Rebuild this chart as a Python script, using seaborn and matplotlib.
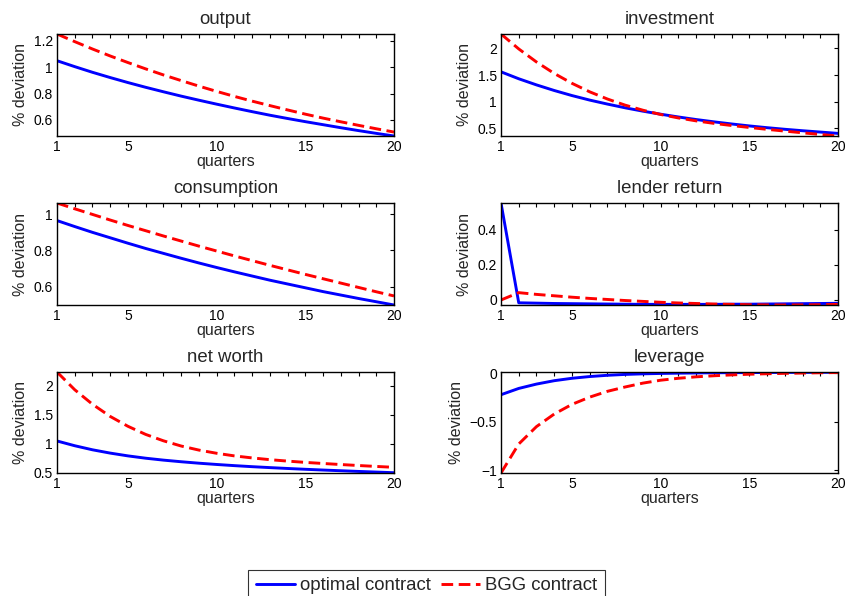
import numpy as np
import pandas as pd
import matplotlib
matplotlib.use("Agg")
import matplotlib.pyplot as plt
import seaborn as sns

quarters = list(range(1, 21))
series_names = ["optimal contract", "BGG contract"]

output_opt = [1.05, 1.005, 0.962, 0.922, 0.884, 0.848, 0.814, 0.781, 0.750, 0.720,
              0.691, 0.663, 0.636, 0.611, 0.587, 0.564, 0.541, 0.519, 0.498, 0.478]
output_bgg = [1.253, 1.195, 1.139, 1.086, 1.036, 0.988, 0.942, 0.899, 0.857, 0.817,
              0.779, 0.743, 0.709, 0.676, 0.644, 0.614, 0.586, 0.559, 0.533, 0.508]

invest_opt = [1.56, 1.43, 1.315, 1.21, 1.115, 1.03, 0.955, 0.885, 0.822, 0.765,
              0.713, 0.665, 0.622, 0.582, 0.545, 0.512, 0.482, 0.455, 0.43, 0.405]
invest_bgg = [2.27, 1.99, 1.745, 1.53, 1.345, 1.185, 1.05, 0.935, 0.84, 0.76,
              0.695, 0.64, 0.593, 0.553, 0.516, 0.481, 0.448, 0.416, 0.385, 0.356]

cons_opt = [0.965, 0.932, 0.900, 0.870, 0.840, 0.811, 0.784, 0.757, 0.731, 0.706,
            0.682, 0.659, 0.636, 0.615, 0.594, 0.573, 0.554, 0.535, 0.517, 0.499]
cons_bgg = [1.062, 1.030, 0.999, 0.968, 0.938, 0.909, 0.880, 0.852, 0.824, 0.797,
            0.770, 0.744, 0.718, 0.693, 0.668, 0.644, 0.620, 0.596, 0.572, 0.549]

lender_opt = [0.554, -0.016, -0.018, -0.020, -0.021, -0.022, -0.023, -0.024, -0.025, -0.025,
              -0.025, -0.025, -0.025, -0.024, -0.024, -0.023, -0.022, -0.021, -0.020, -0.019]
lender_bgg = [0.0, 0.042, 0.032, 0.024, 0.016, 0.009, 0.003, -0.003, -0.008, -0.013,
              -0.017, -0.020, -0.023, -0.025, -0.027, -0.028, -0.0286, -0.028, -0.027, -0.025]

networth_opt = [1.047, 0.965, 0.895, 0.838, 0.79, 0.75, 0.717, 0.689, 0.664, 0.642,
                0.622, 0.604, 0.588, 0.573, 0.559, 0.546, 0.534, 0.522, 0.511, 0.5]
networth_bgg = [2.236, 1.93, 1.68, 1.47, 1.30, 1.16, 1.05, 0.96, 0.89, 0.835,
                0.79, 0.755, 0.725, 0.70, 0.678, 0.659, 0.641, 0.624, 0.608, 0.593]

leverage_opt = [-0.22, -0.155, -0.11, -0.075, -0.05, -0.032, -0.019, -0.01, -0.004, 0.0,
                0.003, 0.005, 0.007, 0.008, 0.009, 0.010, 0.011, 0.011, 0.012, 0.012]
leverage_bgg = [-1.03, -0.73, -0.55, -0.42, -0.32, -0.245, -0.185, -0.14, -0.10, -0.07,
                -0.05, -0.035, -0.024, -0.015, -0.008, -0.003, 0.001, 0.004, 0.007, 0.009]

panel_titles = ["output", "investment", "consumption", "lender return", "net worth", "leverage"]
panel_data = [(output_opt, output_bgg), (invest_opt, invest_bgg), (cons_opt, cons_bgg),
              (lender_opt, lender_bgg), (networth_opt, networth_bgg), (leverage_opt, leverage_bgg)]
panel_yticks = [[0.6, 0.8, 1.0, 1.2], [0.5, 1.0, 1.5, 2.0], [0.6, 0.8, 1.0],
                [0.0, 0.2, 0.4], [0.5, 1.0, 1.5, 2.0], [-1.0, -0.5, 0.0]]
panel_yticklabels = [["0.6", "0.8", "1", "1.2"], ["0.5", "1", "1.5", "2"], ["0.6", "0.8", "1"],
                     ["0", "0.2", "0.4"], ["0.5", "1", "1.5", "2"], ["\u22121", "\u22120.5", "0"]]
panel_ylims = [(0.478, 1.253), (0.356, 2.27), (0.499, 1.062), (-0.0286, 0.554),
               (0.495, 2.236), (-1.03, 0.015)]
xtick_labels = {1: "1", 5: "5", 10: "10", 15: "15", 20: "20"}

sns.set_style("white")
plt.rcParams["font.family"] = ["Liberation Sans", "DejaVu Sans"]
plt.rcParams["axes.unicode_minus"] = True

fig = plt.figure(figsize=(8.47, 5.96), dpi=100)
W, H = 847, 596
col_x = [57, 501]
row_y = [(34, 136), (203, 305), (372, 473)]
axw = 337

palette = {"optimal contract": (0, 0, 1), "BGG contract": (1, 0, 0)}
dashes = {"optimal contract": "", "BGG contract": (4.0, 1.9)}

axes = []
for i, title in enumerate(panel_titles):
    r, c = divmod(i, 2)
    top, bot = row_y[r]
    ax = fig.add_axes([col_x[c] / W, 1 - bot / H, axw / W, (bot - top) / H])
    axes.append(ax)
    opt, bgg = panel_data[i]
    df = pd.DataFrame({
        "quarter": quarters * 2,
        "value": list(opt) + list(bgg),
        "contract": [series_names[0]] * len(quarters) + [series_names[1]] * len(quarters),
    })
    sns.lineplot(data=df, x="quarter", y="value", hue="contract", style="contract",
                 palette=palette, dashes=dashes, linewidth=2.1, ax=ax, legend=False,
                 hue_order=series_names, style_order=series_names)
    ax.set_xlim(1, 20)
    ax.set_ylim(*panel_ylims[i])
    ax.set_xticks(quarters)
    ax.set_xticklabels([xtick_labels.get(q, "") for q in quarters])
    ax.set_yticks(panel_yticks[i])
    ax.set_yticklabels(panel_yticklabels[i])
    ax.tick_params(direction="in", length=3, width=0.8, top=True, right=True,
                   labelsize=10, pad=3, colors="black")
    for s in ax.spines.values():
        s.set_color("black")
        s.set_linewidth(1.0)
    ax.set_title(title, fontsize=13.4, pad=7)
    ax.set_xlabel("quarters", fontsize=11.5, labelpad=0)
    ax.set_ylabel("% deviation", fontsize=11.5, labelpad=4)

handles = axes[0].get_lines()[:2]
leg = fig.legend(handles, series_names, loc="upper center", ncol=2,
                 bbox_to_anchor=(426.5 / W, 1 - 570 / H), frameon=True, fancybox=False,
                 edgecolor="black", fontsize=13.4, handlelength=2.1, handletextpad=0.27,
                 columnspacing=0.55, borderaxespad=0, borderpad=0.4)
leg.get_frame().set_linewidth(0.8)

fig.savefig("out.png", dpi=100)
